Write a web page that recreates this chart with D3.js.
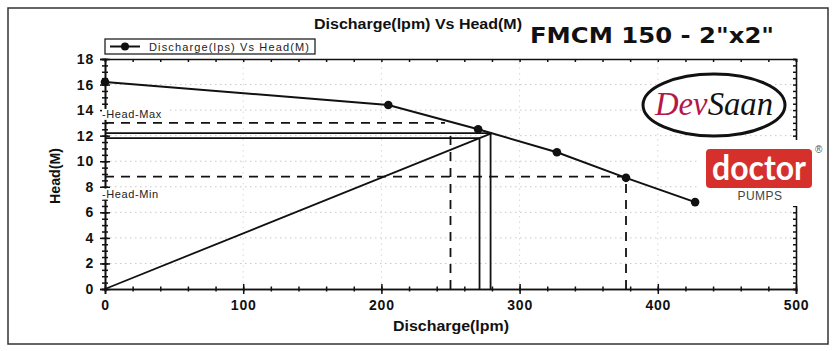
<!DOCTYPE html>
<html>
<head>
<meta charset="utf-8">
<script src="https://cdn.jsdelivr.net/npm/d3@7/dist/d3.min.js"></script>
<style>
  html, body { margin: 0; padding: 0; background: #fff; }
  svg { display: block; }
</style>
</head>
<body>
<svg id="chart" width="836" height="351" font-family="Liberation Sans, Arial, sans-serif"></svg>
<script>
// ---- data ----
const discharge = [0, 205, 270, 327, 377, 427];      // lpm
const head = [16.2, 14.4, 12.5, 10.7, 8.7, 6.8];      // m
const xTicks = [0, 100, 200, 300, 400, 500];
const yTicks = [0, 2, 4, 6, 8, 10, 12, 14, 16, 18];
const headMax = 13.0;
const headMin = 8.8;
const headMaxFlow = 250;
const headMinFlow = 377;
// duty-point construction lines (data coordinates)
const dutyFlowA = 271, dutyHeadA = 11.8;
const dutyFlowB = 279, dutyHeadB = 12.2;
const dutyEndFlow = 280, dutyEndHead = 12.2;

const title = "Discharge(lpm) Vs Head(M)";
const legendLabel = "Discharge(lps) Vs Head(M)";
const modelLabel = "FMCM 150 - 2\"x2\"";

// ---- drawing ----
const svg = d3.select("#chart");
const W = 836, H = 351;
svg.append("rect").attr("width", W).attr("height", H).attr("fill", "#fff");
svg.append("rect").attr("x", 8).attr("y", 8).attr("width", 820).attr("height", 336)
  .attr("fill", "none").attr("stroke", "#333").attr("stroke-width", 1.5);

const x = d3.scaleLinear().domain([0, 500]).range([105, 796]);
const y = d3.scaleLinear().domain([0, 18]).range([289, 59]);

// grid
const g = svg.append("g");
g.selectAll(".hg").data(yTicks.filter(v => v > 0 && v < 18)).join("line")
  .attr("x1", x(0)).attr("x2", x(500)).attr("y1", d => y(d)).attr("y2", d => y(d))
  .attr("stroke", "#c8c8c8").attr("stroke-width", 1).attr("stroke-dasharray", "1.5,3.5");
g.selectAll(".vg").data(xTicks.filter(v => v > 0 && v < 500)).join("line")
  .attr("y1", y(0)).attr("y2", y(18)).attr("x1", d => x(d)).attr("x2", d => x(d))
  .attr("stroke", "#d8d8d8").attr("stroke-width", 1).attr("stroke-dasharray", "1.5,4");

// axes
const axisStroke = "#111";
const tickFont = "Liberation Sans, Arial, sans-serif";
function styleAxis(sel) {
  sel.select(".domain").attr("stroke", axisStroke).attr("stroke-width", 1.6);
  sel.selectAll(".tick line").attr("stroke", axisStroke).attr("stroke-width", 1.5);
}
function styleLabels(sel) {
  sel.selectAll(".tick text").attr("font-size", 14).attr("font-weight", "bold").attr("fill", "#111")
    .attr("font-family", tickFont).attr("letter-spacing", 0.8);
}
const xMinor = d3.range(0, 501, 20);
const bottomMinor = svg.append("g").attr("transform", `translate(0,${y(0)})`)
  .call(d3.axisBottom(x).tickValues(xMinor).tickSize(2.5).tickFormat(""));
styleAxis(bottomMinor);
bottomMinor.selectAll(".tick line").attr("y1", -2.5);
const bottomAxis = svg.append("g").attr("transform", `translate(0,${y(0)})`)
  .call(d3.axisBottom(x).tickValues(xTicks).tickSize(5).tickPadding(6).tickFormat(d3.format("d")));
styleAxis(bottomAxis);
bottomAxis.selectAll(".tick line").attr("y1", -5);
styleLabels(bottomAxis);

const topAxis = svg.append("g").attr("transform", `translate(0,${y(18)})`)
  .call(d3.axisTop(x).tickValues(xMinor).tickSize(-3).tickFormat(""));
styleAxis(topAxis);

const yMinor = d3.range(0, 18.01, 0.5);
const leftMinor = svg.append("g").attr("transform", `translate(${x(0)},0)`)
  .call(d3.axisLeft(y).tickValues(yMinor).tickSize(3).tickFormat(""));
styleAxis(leftMinor);
leftMinor.selectAll(".tick line").attr("x1", 3);
const leftAxis = svg.append("g").attr("transform", `translate(${x(0)},0)`)
  .call(d3.axisLeft(y).tickValues(yTicks).tickSize(5).tickPadding(6).tickFormat(d3.format("d")));
styleAxis(leftAxis);
leftAxis.selectAll(".tick line").attr("x1", 5);
styleLabels(leftAxis);

const rightAxis = svg.append("g").attr("transform", `translate(${x(500)},0)`)
  .call(d3.axisRight(y).tickValues(yMinor).tickSize(-3).tickFormat(""));
styleAxis(rightAxis);

// construction lines
const refs = svg.append("g").attr("stroke", "#111").attr("fill", "none");
const solidSegs = [
  [[0, dutyHeadB], [dutyEndFlow, dutyHeadB]],
  [[0, dutyHeadA], [dutyFlowA, dutyHeadA]],
  [[dutyFlowA, 0], [dutyFlowA, dutyHeadA]],
  [[dutyFlowB, 0], [dutyFlowB, dutyHeadB]],
  [[0, 0], [dutyEndFlow, dutyEndHead]]
];
const dashedSegs = [
  [[0, headMax], [headMaxFlow - 4, headMax]],
  [[headMaxFlow, 0], [headMaxFlow, dutyHeadB]],
  [[0, headMin], [headMinFlow, headMin]],
  [[headMinFlow, 0], [headMinFlow, headMin]]
];
refs.selectAll(".s").data(solidSegs).join("line")
  .attr("x1", d => x(d[0][0])).attr("y1", d => y(d[0][1]))
  .attr("x2", d => x(d[1][0])).attr("y2", d => y(d[1][1]))
  .attr("stroke-width", 1.8);
refs.selectAll(".d").data(dashedSegs).join("line")
  .attr("x1", d => x(d[0][0])).attr("y1", d => y(d[0][1]))
  .attr("x2", d => x(d[1][0])).attr("y2", d => y(d[1][1]))
  .attr("stroke-width", 1.8).attr("stroke-dasharray", "9,7");

// Head-Max / Head-Min labels
[[headMax, "-Head-Max", -5], [headMin, "-Head-Min", 21]].forEach(([v, t, dy]) => {
  const ty = y(v) + dy;
  svg.append("rect").attr("x", x(0) - 3).attr("y", ty - 9).attr("width", 68).attr("height", 11).attr("fill", "#fff");
  svg.append("text").attr("x", x(0) - 3).attr("y", ty).attr("font-size", 11).attr("fill", "#222")
    .attr("letter-spacing", 0.6).text(t);
});

// curve
const pts = discharge.map((d, i) => [d, head[i]]);
svg.append("path").datum(pts)
  .attr("d", d3.line().x(d => x(d[0])).y(d => y(d[1])))
  .attr("fill", "none").attr("stroke", "#111").attr("stroke-width", 2);
svg.selectAll(".pt").data(pts).join("circle")
  .attr("cx", d => x(d[0])).attr("cy", d => y(d[1])).attr("r", 4.3).attr("fill", "#111");

// titles
svg.append("text").attr("x", 418).attr("y", 29).attr("text-anchor", "middle")
  .attr("font-size", 14).attr("font-weight", "bold").attr("fill", "#111")
  .attr("textLength", 208).attr("lengthAdjust", "spacingAndGlyphs").text(title);
svg.append("text").attr("x", 451).attr("y", 331).attr("text-anchor", "middle")
  .attr("font-size", 14).attr("font-weight", "bold").attr("fill", "#111")
  .attr("textLength", 116).attr("lengthAdjust", "spacingAndGlyphs").text("Discharge(lpm)");
svg.append("text").attr("transform", "translate(60,176) rotate(-90)").attr("text-anchor", "middle")
  .attr("font-size", 14).attr("font-weight", "bold").attr("fill", "#111")
  .attr("textLength", 56).attr("lengthAdjust", "spacingAndGlyphs").text("Head(M)");

// legend
const lg = svg.append("g");
lg.append("rect").attr("x", 105).attr("y", 39).attr("width", 210).attr("height", 15)
  .attr("fill", "#fff").attr("stroke", "#222").attr("stroke-width", 1.3);
lg.append("line").attr("x1", 110).attr("x2", 140).attr("y1", 46.5).attr("y2", 46.5)
  .attr("stroke", "#111").attr("stroke-width", 2);
lg.append("circle").attr("cx", 125).attr("cy", 46.5).attr("r", 4).attr("fill", "#111");
lg.append("text").attr("x", 149).attr("y", 50.5).attr("font-size", 11).attr("fill", "#222")
  .attr("textLength", 160).attr("lengthAdjust", "spacing").text(legendLabel);

// model label
svg.append("text").attr("x", 530).attr("y", 43).attr("font-family", "DejaVu Sans, Verdana, sans-serif")
  .attr("font-size", 22).attr("font-weight", "bold").attr("fill", "#111")
  .attr("textLength", 244).attr("lengthAdjust", "spacingAndGlyphs").text(modelLabel);

// DevSaan logo
svg.append("ellipse").attr("cx", 714).attr("cy", 105).attr("rx", 71).attr("ry", 31)
  .attr("fill", "#fff").attr("stroke", "#111").attr("stroke-width", 3);
const ds = svg.append("text").attr("x", 714).attr("y", 115).attr("text-anchor", "middle")
  .attr("font-family", "Liberation Serif, DejaVu Serif, serif").attr("font-style", "italic")
  .attr("font-size", 34).attr("textLength", 118).attr("lengthAdjust", "spacingAndGlyphs");
ds.append("tspan").attr("fill", "#b5174a").text("Dev");
ds.append("tspan").attr("fill", "#111").text("Saan");

// doctor logo
svg.append("rect").attr("x", 700).attr("y", 140).attr("width", 124).attr("height", 66).attr("fill", "#fff");
svg.append("rect").attr("x", 706).attr("y", 149).attr("width", 106).attr("height", 39).attr("rx", 4)
  .attr("fill", "#d6302d");
svg.append("text").attr("x", 759).attr("y", 180).attr("text-anchor", "middle")
  .attr("font-family", "Lato, Roboto, sans-serif").attr("font-weight", "bold")
  .attr("font-size", 34).attr("fill", "#fff").attr("textLength", 94).attr("lengthAdjust", "spacingAndGlyphs")
  .text("doctor");
svg.append("text").attr("x", 815).attr("y", 153).attr("font-size", 10).attr("fill", "#555").text("®");
svg.append("text").attr("x", 760).attr("y", 200).attr("text-anchor", "middle")
  .attr("font-size", 12).attr("fill", "#444").attr("letter-spacing", 0.5).text("PUMPS");
</script>
</body>
</html>
